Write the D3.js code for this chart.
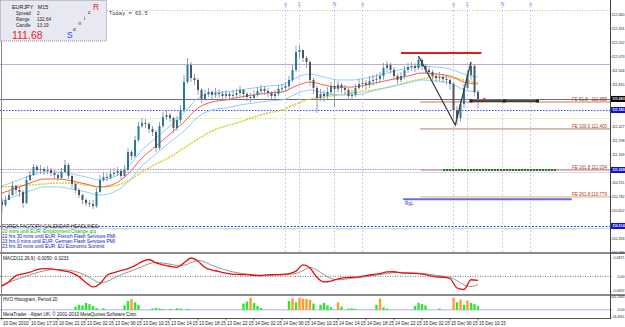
<!DOCTYPE html>
<meta charset="utf-8">
<body style="margin:0;background:#fff">
<svg width="625" height="327"></svg>

<script src="https://d3js.org/d3.v7.min.js"></script>
<script>

// ---- data (EURJPY M15, one candle per 30 min here) ----
var firstOpen = 110.740;
var closes = [110.707,110.753,110.799,110.882,110.845,110.827,110.725,110.937,110.983,111.057,
  111.029,111.038,111.020,111.029,111.002,110.983,110.956,111.011,111.075,110.974,
  110.900,110.845,110.799,110.753,110.725,110.716,110.698,110.827,110.937,110.965,
  110.956,110.992,111.002,111.020,110.974,111.029,111.195,111.158,111.305,111.434,
  111.462,111.453,111.407,111.379,111.232,111.434,111.517,111.535,111.508,111.416,
  111.489,111.581,111.839,111.996,111.876,111.858,111.766,111.683,111.729,111.747,
  111.720,111.738,111.729,111.710,111.729,111.710,111.720,111.738,111.766,111.729,
  111.701,111.692,111.720,111.756,111.775,111.756,111.738,111.710,111.729,111.775,
  111.784,111.802,111.858,111.950,112.115,112.134,112.060,112.023,111.858,111.784,
  111.692,111.729,111.710,111.747,111.802,111.775,111.812,111.784,111.766,111.710,
  111.720,111.784,111.821,111.830,111.812,111.848,111.858,111.867,111.894,111.968,
  111.996,111.950,111.894,111.858,111.894,111.950,111.977,111.986,111.968,112.042,
  111.986,111.950,111.931,111.894,111.876,111.885,111.867,111.858,111.821,111.581,
  111.508,111.637,111.784,111.904,111.986,111.747,111.683];
var highs = [110.771,110.790,110.845,110.919,110.891,110.873,110.845,110.974,111.020,111.084,
  111.075,111.075,111.057,111.066,111.048,111.029,111.002,111.048,111.121,111.094,
  110.983,110.909,110.863,110.808,110.771,110.753,110.753,110.863,110.983,111.011,
  111.002,111.029,111.048,111.057,111.038,111.075,111.232,111.213,111.342,111.471,
  111.508,111.499,111.471,111.434,111.397,111.471,111.563,111.581,111.554,111.517,
  111.526,111.627,111.904,112.060,112.023,111.913,111.876,111.784,111.766,111.784,
  111.766,111.784,111.775,111.756,111.766,111.747,111.766,111.775,111.802,111.775,
  111.747,111.738,111.766,111.793,111.812,111.802,111.784,111.756,111.766,111.812,
  111.821,111.839,111.894,111.996,112.171,112.180,112.134,112.079,112.042,111.876,
  111.802,111.775,111.766,111.793,111.839,111.858,111.848,111.830,111.812,111.784,
  111.766,111.821,111.867,111.876,111.858,111.894,111.904,111.913,111.931,112.014,
  112.032,112.014,111.977,111.913,111.931,111.986,112.014,112.023,112.014,112.079,
  112.060,112.005,111.977,111.950,111.922,111.931,111.913,111.904,111.876,111.839,
  111.618,111.674,111.821,111.950,112.023,112.005,111.766];
var lows = [110.633,110.689,110.753,110.790,110.808,110.781,110.679,110.716,110.928,110.974,
  111.002,110.992,110.983,110.992,110.974,110.946,110.928,110.937,111.002,110.946,
  110.863,110.817,110.771,110.716,110.698,110.689,110.670,110.679,110.817,110.919,
  110.928,110.946,110.965,110.974,110.946,110.956,111.011,111.121,111.140,111.287,
  111.416,111.416,111.370,111.342,111.195,111.213,111.416,111.489,111.471,111.370,
  111.388,111.462,111.563,111.821,111.839,111.812,111.720,111.646,111.664,111.701,
  111.683,111.692,111.692,111.674,111.683,111.664,111.683,111.692,111.710,111.692,
  111.664,111.655,111.674,111.701,111.729,111.720,111.701,111.683,111.683,111.710,
  111.738,111.756,111.775,111.839,111.931,112.060,112.023,111.968,111.802,111.729,
  111.554,111.664,111.655,111.683,111.720,111.609,111.747,111.738,111.720,111.674,
  111.674,111.701,111.766,111.784,111.766,111.784,111.802,111.821,111.830,111.858,
  111.931,111.913,111.858,111.821,111.839,111.867,111.922,111.940,111.931,111.950,
  111.950,111.913,111.885,111.858,111.839,111.848,111.830,111.812,111.766,111.508,
  111.443,111.471,111.600,111.766,111.858,111.710,111.600];

// moving averages, one reading every 2 hours
var emaClose = [110.817,110.863,110.909,110.946,110.946,110.928,110.900,110.873,110.900,110.992,
  111.140,111.250,111.361,111.471,111.600,111.655,111.674,111.701,111.720,111.738,
  111.747,111.802,111.839,111.812,111.793,111.793,111.812,111.839,111.867,111.894,
  111.922,111.913,111.894,111.839,111.821];
var emaHigh = [110.882,110.928,110.974,111.011,111.011,110.992,110.965,110.937,110.965,111.057,
  111.213,111.324,111.434,111.554,111.692,111.738,111.747,111.766,111.784,111.802,
  111.812,111.876,111.913,111.885,111.858,111.858,111.876,111.904,111.940,111.968,
  111.986,111.977,111.959,111.913,111.885];
var emaLow = [110.744,110.790,110.836,110.873,110.873,110.854,110.827,110.799,110.827,110.919,
  111.066,111.176,111.287,111.388,111.517,111.581,111.600,111.627,111.646,111.664,
  111.674,111.729,111.766,111.738,111.720,111.720,111.738,111.775,111.802,111.830,
  111.858,111.848,111.830,111.766,111.747];
var emaSlow = [110.873,110.882,110.891,110.900,110.909,110.909,110.891,110.873,110.882,110.928,
  111.011,111.084,111.149,111.232,111.314,111.388,111.434,111.471,111.517,111.554,
  111.581,111.637,111.683,111.701,111.720,111.738,111.756,111.775,111.802,111.839,
  111.867,111.885,111.885,111.858,111.830];

// MACD, one reading every hour
var macdMain = [-0.047,-0.025,0.004,0.012,0.020,0.032,0.037,0.036,0.031,0.025,
  0.017,-0.001,-0.030,-0.050,-0.035,0.005,0.018,0.027,0.037,0.051,
  0.070,0.080,0.064,0.055,0.048,0.043,0.064,0.087,0.072,0.042,
  0.030,0.023,0.015,0.010,0.009,0.008,0.005,0.004,0.007,0.008,
  0.009,0.013,0.025,0.055,0.040,-0.005,-0.026,-0.022,-0.012,-0.006,
  -0.004,-0.002,0.004,0.009,0.013,0.021,0.022,0.017,0.015,0.014,
  0.011,0.004,-0.002,-0.004,-0.010,-0.055,-0.062,-0.016,-0.019];
var macdSignal = [-0.040,-0.028,-0.015,-0.004,0.007,0.018,0.026,0.032,0.033,0.031,
  0.027,0.018,0.004,-0.015,-0.030,-0.024,-0.008,0.008,0.020,0.033,
  0.046,0.060,0.066,0.063,0.058,0.052,0.053,0.065,0.075,0.068,
  0.052,0.040,0.030,0.021,0.015,0.011,0.008,0.006,0.006,0.007,
  0.008,0.010,0.014,0.028,0.042,0.030,0.008,-0.010,-0.016,-0.013,
  -0.009,-0.005,-0.001,0.004,0.008,0.014,0.018,0.019,0.017,0.016,
  0.014,0.010,0.005,0.001,-0.004,-0.020,-0.040,-0.048,-0.038];

// HVO histogram, per candle
var hvo = [0,0,0,0,0,0,0,0,0,0, 0,0,0,0,0,0,0,0,0,0,
  0,25,40,35,55,45,30,15,0,12, 0,0,0,0,0,35,70,85,60,40,
  0,0,0,10,15,10,8,0,8,0, 12,10,0,8,0,0,0,0,0,0,
  0,0,0,0,0,0,0,0,0,50, 65,95,55,30,15,0,0,0,0,0,
  0,0,70,90,60,95,88,85,80,50, 0,40,55,35,20,0,60,25,0,10,
  12,8,0,0,0,0,0,40,90,20, 10,0,0,0,0,0,0,0,30,55,
  45,35,0,0,0,10,0,0,0,95, 60,80,40,75,55,45,30];
var hvoHot = [37,71,83,85,86,87,88,96,108,129,131,133];

// chart objects (prices and times in hours from the first candle)
var levelNames  = ["today","high","bid","pivot","mid","s1a","s1b","s2a","s2b"];
var levelPrices = [112.502,112.005,111.683,111.581,111.508,111.038,111.011,110.514,110.496];
var feNames  = ["FE 61.8","FE 100.0","FE 161.8","FE 261.8"];
var fePrices = [111.655,111.407,111.029,110.781];
var feTexts  = ["111.655","111.400","111.034","110.779"];
var feStart = 59.75;
var zigzag = [[59.5,112.079],[64.75,111.443],[67,112.023]];
var redLine = {from:57, to:68.5, price:112.106};
var targetTimes = [67,71.75,76.5], targetPrice = 111.664;
var greenLine = {from:63, to:79.3, price:111.029};
var rglLine = {from:57.3, to:81.4, price:110.760};
var lastDot = [68.9,111.683];
var sessionTimes  = [40.5,42.5,47.5,51.5,64.5,66.5,71.5,75.5];
var sessionLabels = ["o","L","N","o","o","L","N","o"];

var priceLabels = ["112.460","112.331","112.202","112.073","111.944","111.815","111.685","111.556","111.427",
  "111.298","111.169","111.040","110.911","110.782","110.652","110.523","110.394","110.265"];
var boxLabels = [{p:111.683, txt:"111.683", c:"#000"},{p:111.581, txt:"111.581", c:"#1010d0"},
  {p:111.029, txt:"111.029", c:"#1010d0"},{p:110.514, txt:"110.514", c:"#1010d0"}];
var timeLabels = ["10 Dec 2010","10 Dec 17:15","10 Dec 21:15","13 Dec 02:15","13 Dec 06:15","13 Dec 10:15",
  "13 Dec 14:15","13 Dec 18:15","13 Dec 22:15","14 Dec 02:15","14 Dec 06:15","14 Dec 10:15",
  "14 Dec 14:15","14 Dec 18:15","14 Dec 22:15","15 Dec 02:15","15 Dec 06:15","15 Dec 10:15"];
var newsLines = ["FOREX FACTORY CALENDAR HEADLINES:",
  "20 mins until EUR: Employment Change q/q",
  "22 hrs 30 mins until EUR: French Flash Services PMI",
  "23 hrs 0 mins until EUR: German Flash Services PMI",
  "23 hrs 30 mins until EUR: EU Economic Summit"];

// ---- scales ----
var font = "Liberation Sans, Arial, sans-serif";
var svg = d3.select("svg");
var x = d3.scaleLinear().domain([0, 68]).range([2, 478]);
var y = d3.scaleLinear().domain([110.265, 112.465]).range([253, 14]);
var yMacd = d3.scaleLinear().domain([-0.0692, 0.0871]).range([291, 258]);
var yHvo = d3.scaleLinear().domain([-56.4651, 101.5345]).range([317, 297]);
var xEnd = 610;

svg.append("rect").attr("width", 625).attr("height", 327).attr("fill", "#fff");

svg.append("clipPath").attr("id", "mainclip").append("rect")
  .attr("x", 0).attr("y", 0).attr("width", xEnd).attr("height", 252);
var main = svg.append("g").attr("clip-path", "url(#mainclip)");

// horizontal levels
var levelStyle = {
  today: {c:"#8ed88e", w:1, d:"1,1.5", from:15},
  high:  {c:"#b8b0d8", w:1, d:null},
  bid:   {c:"#6e6e80", w:1, d:null},
  pivot: {c:"#4848ff", w:1, d:"1.5,1.5"},
  mid:   {c:"#c8e050", w:1, d:"1,1.5"},
  s1a:   {c:"#b090e0", w:1, d:"1.5,1"},
  s1b:   {c:"#d8d8e0", w:1, d:null},
  s2a:   {c:"#3838ff", w:1, d:"2,1.5"},
  s2b:   {c:"#b8e8b8", w:1, d:null}
};
levelNames.forEach(function(n, i) {
  var s = levelStyle[n];
  main.append("line")
    .attr("x1", s.from != null ? x(s.from) : 0).attr("x2", xEnd)
    .attr("y1", Math.round(y(levelPrices[i])) + 0.5).attr("y2", Math.round(y(levelPrices[i])) + 0.5)
    .attr("stroke", s.c).attr("stroke-width", s.w).attr("stroke-dasharray", s.d);
});

// session separators
sessionTimes.forEach(function(t, i) {
  main.append("line").attr("x1", x(t)).attr("x2", x(t)).attr("y1", 2).attr("y2", 252)
    .attr("stroke", "#c4bce8").attr("stroke-width", 0.8).attr("stroke-dasharray", "2,2");
  main.append("text").attr("x", x(t)).attr("y", 6).attr("text-anchor", "middle")
    .attr("font-family", font).attr("font-size", 4.8).attr("fill", "#9966dd").text(sessionLabels[i]);
});

// fibo expansion levels
var feColors = ["#c07a6a", "#c07a6a", "#d07a8a", "#e8a870"];
fePrices.forEach(function(p, i) {
  main.append("line").attr("x1", x(feStart)).attr("x2", xEnd)
    .attr("y1", y(p)).attr("y2", y(p)).attr("stroke", feColors[i]).attr("stroke-width", 1);
  main.append("text").attr("x", 572).attr("y", y(p) - 1).attr("font-family", font)
    .attr("font-size", 4.5).attr("fill", "#b03820").text(feNames[i]);
  main.append("text").attr("x", 607).attr("y", y(p) - 1).attr("text-anchor", "end").attr("font-family", font)
    .attr("font-size", 4.5).attr("fill", "#b03820").text(feTexts[i]);
});
main.append("line").attr("x1", x(greenLine.from)).attr("x2", x(greenLine.to))
  .attr("y1", y(greenLine.price)).attr("y2", y(greenLine.price))
  .attr("stroke", "#1f7a1f").attr("stroke-width", 2).attr("stroke-dasharray", "2,1");
main.append("line").attr("x1", x(rglLine.from)).attr("x2", x(rglLine.to))
  .attr("y1", y(rglLine.price)).attr("y2", y(rglLine.price))
  .attr("stroke", "#6a6ae8").attr("stroke-width", 2);
main.append("text").attr("x", x(rglLine.from) + 2).attr("y", y(rglLine.price) + 6)
  .attr("font-family", font).attr("font-size", 4.5).attr("fill", "#3030c0").text("RgL");

// moving averages
function maLine(vals) {
  return d3.line().x(function(d, i) { return x(i * 2); }).y(function(d) { return y(d); })
    .curve(d3.curveMonotoneX)(vals);
}
main.append("path").attr("d", maLine(emaSlow)).attr("fill", "none")
  .attr("stroke", "#d4d020").attr("stroke-width", 1.4).attr("stroke-dasharray", "2,1");
main.append("path").attr("d", maLine(emaHigh)).attr("fill", "none").attr("stroke", "#88c4ff").attr("stroke-width", 0.9);
main.append("path").attr("d", maLine(emaLow)).attr("fill", "none").attr("stroke", "#88c4ff").attr("stroke-width", 0.9);
main.append("path").attr("d", maLine(emaClose)).attr("fill", "none").attr("stroke", "#ff5a4a").attr("stroke-width", 1);

// candles
var candles = closes.map(function(c, i) {
  return {t: i * 0.5, o: i ? closes[i - 1] : firstOpen, h: highs[i], l: lows[i], c: c};
});
main.selectAll(".wick").data(candles).join("line").attr("class", "wick")
  .attr("x1", function(d) { return x(d.t); }).attr("x2", function(d) { return x(d.t); })
  .attr("y1", function(d) { return y(Math.max(d.h, d.o, d.c)); })
  .attr("y2", function(d) { return y(Math.min(d.l, d.o, d.c)); })
  .attr("stroke", "#8a94a8").attr("stroke-width", 0.9);
main.selectAll(".body").data(candles).join("rect").attr("class", "body")
  .attr("x", function(d) { return x(d.t) - 1; }).attr("width", 2)
  .attr("y", function(d) { return y(Math.max(d.o, d.c)); })
  .attr("height", function(d) { return Math.max(0.8, Math.abs(y(d.o) - y(d.c))); })
  .attr("fill", function(d) { return d.c >= d.o ? "#2a7898" : "#4a5462"; });

// zigzag, red level, target line
main.append("path").attr("d", d3.line().x(function(d) { return x(d[0]); }).y(function(d) { return y(d[1]); })(zigzag))
  .attr("fill", "none").attr("stroke", "#3a3a3a").attr("stroke-width", 1.2);
main.append("line").attr("x1", x(redLine.from)).attr("x2", x(redLine.to))
  .attr("y1", y(redLine.price)).attr("y2", y(redLine.price)).attr("stroke", "#e41e1e").attr("stroke-width", 1.8);
main.append("line").attr("x1", x(targetTimes[0])).attr("x2", x(targetTimes[2]))
  .attr("y1", y(targetPrice)).attr("y2", y(targetPrice)).attr("stroke", "#111").attr("stroke-width", 1.6);
main.selectAll(".mk").data(targetTimes).join("rect").attr("class", "mk")
  .attr("x", function(d) { return x(d) - 1.5; }).attr("y", y(targetPrice) - 1.5)
  .attr("width", 3).attr("height", 3).attr("fill", "#222");
main.append("circle").attr("cx", x(lastDot[0])).attr("cy", y(lastDot[1])).attr("r", 1.3).attr("fill", "#ff3010");

// news block
newsLines.forEach(function(s, i) {
  main.append("text").attr("x", 2).attr("y", 227.5 + i * 5).attr("font-family", font).attr("font-size", 4.8)
    .attr("fill", i === 0 ? "#222" : (i === 1 ? "#10a010" : "#1010c8")).text(s);
});

// info panel
var info = svg.append("g");
info.append("rect").attr("x", 0.5).attr("y", 0.5).attr("width", 106).attr("height", 40.5)
  .attr("fill", "#e8e8f2").attr("stroke", "#9090a0").attr("stroke-dasharray", "1,1");
info.append("text").attr("x", 12).attr("y", 8.5).attr("font-family", font).attr("font-size", 5.4)
  .attr("fill", "#111").attr("xml:space", "preserve").text("EURJPY   M15");
[["Spread", "2"], ["Range", "132,64"], ["Candle", "13:19"]].forEach(function(r, i) {
  info.append("text").attr("x", 16).attr("y", 15 + i * 6).attr("font-family", font).attr("font-size", 4.6).attr("fill", "#222").text(r[0]);
  info.append("text").attr("x", 37).attr("y", 15 + i * 6).attr("font-family", font).attr("font-size", 4.6).attr("fill", "#222").text(r[1]);
});
info.append("text").attr("x", 12).attr("y", 38.5).attr("font-family", font).attr("font-size", 10.5).attr("fill", "#f02020").text("111.68");
info.append("text").attr("x", 67).attr("y", 38).attr("font-family", font).attr("font-size", 8.5).attr("fill", "#3a3af0").text("S");
[["o", 73, 31], ["n", 78.5, 25], ["i", 84, 19.5], ["c", 88, 14]].forEach(function(l) {
  info.append("text").attr("x", l[1]).attr("y", l[2]).attr("font-family", font).attr("font-size", 5).attr("fill", "#222").text(l[0]);
});
info.append("text").attr("x", 93).attr("y", 10).attr("font-family", font).attr("font-size", 8.5).attr("fill", "#f02020").text("R");
svg.append("text").attr("x", 109).attr("y", 15).attr("font-family", "Liberation Mono, monospace").attr("font-size", 5.4)
  .attr("fill", "#333").attr("xml:space", "preserve").text("Today = 63.5");

// MACD pane
svg.append("rect").attr("x", 0).attr("y", 252).attr("width", 625).attr("height", 2).attr("fill", "#8a8a8a");
svg.append("line").attr("x1", 0).attr("x2", xEnd).attr("y1", yMacd(0)).attr("y2", yMacd(0))
  .attr("stroke", "#777").attr("stroke-dasharray", "1,1.5");
var hourLine = function(vals, sc) {
  return d3.line().x(function(d, i) { return x(i); }).y(function(d) { return sc(d); }).curve(d3.curveMonotoneX)(vals);
};
svg.append("path").attr("d", hourLine(macdSignal, yMacd)).attr("fill", "none").attr("stroke", "#7a7a7a").attr("stroke-width", 0.8);
svg.append("path").attr("d", hourLine(macdMain, yMacd)).attr("fill", "none").attr("stroke", "#e81010").attr("stroke-width", 1.3);
svg.append("text").attr("x", 3).attr("y", 260).attr("font-family", font).attr("font-size", 4.6).attr("fill", "#111")
  .text("MACD(12,26,9) -0.0050 -0.0233");

// HVO pane
svg.append("rect").attr("x", 0).attr("y", 294).attr("width", 625).attr("height", 2).attr("fill", "#8a8a8a");
svg.append("line").attr("x1", 0).attr("x2", xEnd).attr("y1", yHvo(0)).attr("y2", yHvo(0)).attr("stroke", "#9a9af0").attr("stroke-width", 0.8);
svg.selectAll(".hvo").data(hvo).join("rect").attr("class", "hvo")
  .attr("x", function(d, i) { return x(i * 0.5) - 1.2; }).attr("width", 2.4)
  .attr("y", function(d) { return yHvo(d); })
  .attr("height", function(d) { return yHvo(0) - yHvo(d); })
  .attr("fill", function(d, i) { return hvoHot.indexOf(i) >= 0 ? "#ff9a30" : "#2ee82e"; });
svg.append("text").attr("x", 3).attr("y", 301).attr("font-family", font).attr("font-size", 4.6).attr("fill", "#111")
  .text("HVO Histogram, Period 20");
svg.append("text").attr("x", 3).attr("y", 316).attr("font-family", font).attr("font-size", 4.6).attr("fill", "#111")
  .text("MetaTrader - Alpari UK, \u00a9 2001-2010 MetaQuotes Software Corp.");

// frame
svg.append("line").attr("x1", 1.5).attr("x2", 1.5).attr("y1", 41).attr("y2", 318).attr("stroke", "#888");
svg.append("line").attr("x1", 0).attr("x2", xEnd).attr("y1", 318.5).attr("y2", 318.5).attr("stroke", "#555");
svg.append("line").attr("x1", xEnd + 0.5).attr("x2", xEnd + 0.5).attr("y1", 0).attr("y2", 319).attr("stroke", "#444");

// price axis: labels hidden where a price box sits on top of them
var axisG = svg.append("g");
function axisText(yy, s, size) {
  axisG.append("line").attr("x1", xEnd).attr("x2", xEnd + 1.5).attr("y1", yy).attr("y2", yy).attr("stroke", "#333").attr("stroke-width", 0.6);
  axisG.append("text").attr("x", 624.6).attr("y", yy + 1.3).attr("text-anchor", "end")
    .attr("font-family", font).attr("font-size", size).attr("fill", "#222").text(s);
}
priceLabels.forEach(function(s) {
  var yy = y(+s);
  var hidden = boxLabels.some(function(b) { return Math.abs(y(b.p) - yy) < 6; });
  if (!hidden) axisText(yy, s, 3.6);
});
boxLabels.forEach(function(b) {
  var yy = y(b.p);
  axisG.append("rect").attr("x", xEnd + 1).attr("y", yy - 3).attr("width", 14).attr("height", 6).attr("fill", b.c);
  axisG.append("text").attr("x", 624.6).attr("y", yy + 1.4).attr("text-anchor", "end").attr("font-family", font)
    .attr("font-size", 3.5).attr("font-weight", "bold").attr("fill", "#fff").text(b.txt);
});
[[yMacd(0.0871), "0.0871", 3.6], [yMacd(0), "0.00", 3.6], [yMacd(-0.0692), "-0.0692", 3.6],
 [yHvo(101.5345), "101.5345", 3.2], [yHvo(0), "0.00", 3.6], [yHvo(-56.4651), "-56.4651", 3.2]].forEach(function(l) {
  axisText(l[0], l[1], l[2]);
});

// time axis
timeLabels.forEach(function(s, i) {
  var xx = x(i * 4);
  svg.append("line").attr("x1", xx).attr("x2", xx).attr("y1", 318).attr("y2", 320.5).attr("stroke", "#333").attr("stroke-width", 0.6);
  svg.append("text").attr("x", xx + 1).attr("y", 324.5).attr("font-family", font).attr("font-size", 4.5).attr("fill", "#222").text(s);
});

</script>
